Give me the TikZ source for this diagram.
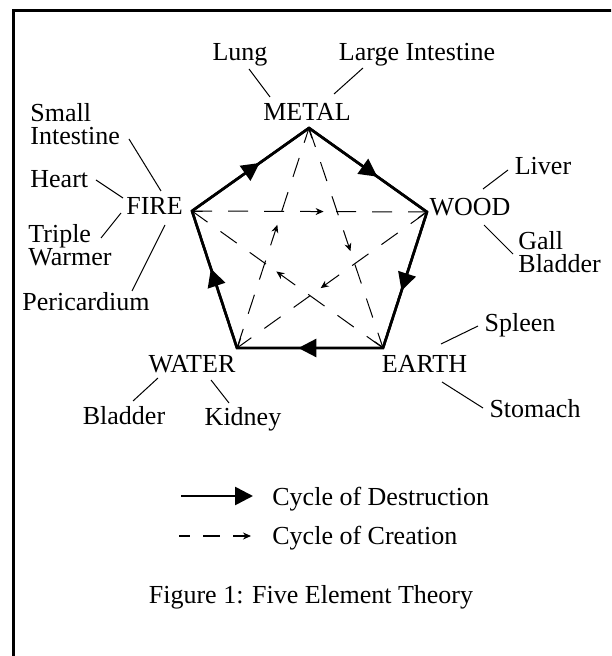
\documentclass[tikz,border=0pt]{standalone}
\usepackage{fontspec}
\setmainfont{Liberation Serif}
\usetikzlibrary{arrows.meta,decorations.markings}
\begin{document}
\begin{tikzpicture}[x=0.5pt,y=-0.5pt,
 lbl/.style={inner sep=0pt,font=\fontsize{13}{11.5}\selectfont},
 organ/.style={line width=0.5pt},
 destr/.style={line width=1.3pt, postaction={decorate}, decoration={markings, mark=at position 0.58 with {\arrow{Triangle[length=9pt,width=9pt]}}}},
 creat/.style={line width=0.5pt, dash pattern=on 10pt off 8pt, -{Straight Barb[length=4pt,width=6pt]}, postaction={decorate}, decoration={markings, mark=at position 0.56 with {\arrow{Stealth[length=4pt,width=3.5pt]}}}},
]
\useasboundingbox (0,0) rectangle (611,656);
\begin{scope}
\clip (0,0) rectangle (611,656);
\draw[line width=1.5pt] (13,11) rectangle (640,690);
\end{scope}

% pentagon vertices
\coordinate (metalV) at (309,128);
\coordinate (fireV) at (192,211);
\coordinate (woodV) at (427,212);
\coordinate (waterV) at (237,348);
\coordinate (earthV) at (383,348);

% element labels
\node[lbl,anchor=base] (metal) at (307,121) {METAL};
\node[lbl,anchor=base] (fire) at (154.5,215) {FIRE};
\node[lbl,anchor=base] (wood) at (470,216) {WOOD};
\node[lbl,anchor=base] (earth) at (424.5,372) {EARTH};
\node[lbl,anchor=base] (water) at (192,372) {WATER};

% pentagon (destruction)
\draw[line width=1.3pt,line join=miter] (fireV)--(metalV)--(woodV)--(earthV)--(waterV)--cycle;
\draw[destr] (fireV)--(metalV);
\draw[destr] (metalV)--(woodV);
\draw[destr] (woodV)--(earthV);
\draw[destr] (earthV)--(waterV);
\draw[destr] (waterV)--(fireV);

% star (creation)
\draw[creat] (fireV)--(woodV);
\draw[creat] (woodV)--(waterV);
\draw[creat] (waterV)--(metalV);
\draw[creat] (metalV)--(earthV);
\draw[creat] (earthV)--(fireV);

% organ labels
\node[lbl,anchor=base] (lung) at (240,61) {Lung};
\node[lbl,anchor=base] (lint) at (417,61) {Large Intestine};
\node[lbl,anchor=base west,align=left] (sint) at (30,145) {Small\\Intestine};
\node[lbl,anchor=base west] (heart) at (30,188) {Heart};
\node[lbl,anchor=base west,align=left] (triple) at (28,266) {Triple\\Warmer};
\node[lbl,anchor=base] (peri) at (86,311) {Pericardium};
\node[lbl,anchor=base] (liver) at (543,175) {Liver};
\node[lbl,anchor=base west,align=left] (gall) at (518,273) {Gall\\Bladder};
\node[lbl,anchor=base] (spleen) at (520,332) {Spleen};
\node[lbl,anchor=base] (stomach) at (535,417) {Stomach};
\node[lbl,anchor=base] (bladder) at (124,424) {Bladder};
\node[lbl,anchor=base] (kidney) at (243,425) {Kidney};

% organ connector end points
\coordinate (lungA) at (249,69);   \coordinate (lungB) at (270,97);
\coordinate (lintA) at (363,68);   \coordinate (lintB) at (334,94);
\coordinate (sintA) at (129,139);  \coordinate (sintB) at (161,191);
\coordinate (heartA) at (96,180);  \coordinate (heartB) at (123,198);
\coordinate (tripA) at (101,238);  \coordinate (tripB) at (121,213);
\coordinate (periA) at (132,291);  \coordinate (periB) at (165,225);
\coordinate (livA) at (508,170);   \coordinate (livB) at (483,189);
\coordinate (gallA) at (513,254);  \coordinate (gallB) at (484,225);
\coordinate (splA) at (478,326);   \coordinate (splB) at (441,344);
\coordinate (stoA) at (483,408);   \coordinate (stoB) at (442,382);
\coordinate (blaA) at (133,401);   \coordinate (blaB) at (158,378);
\coordinate (kidA) at (229,403);   \coordinate (kidB) at (211,380);

\foreach \n in {lung,lint,sint,heart,trip,peri,liv,gall,spl,sto,bla,kid}
  \draw[organ] (\n A)--(\n B);

% legend
\coordinate (dA) at (181,496); \coordinate (dB) at (253,496);
\draw[line width=1.3pt,-{Triangle[length=9pt,width=9pt]}] (dA)--(dB);
\node[lbl,anchor=base west] (dtext) at (272,505) {Cycle of Destruction};
\coordinate (cA) at (179,536); \coordinate (cB) at (251,536);
\draw[line width=0.6pt,dash pattern=on 8.5pt off 6.5pt,dash phase=3pt,-{Stealth[length=4pt,width=3.5pt]}] (cA)--(cB);
\node[lbl,anchor=base west] (ctext) at (272,544) {Cycle of Creation};

\node[lbl,anchor=base] (caption) at (311,603) {Figure 1: Five Element Theory};
\end{tikzpicture}
\end{document}
